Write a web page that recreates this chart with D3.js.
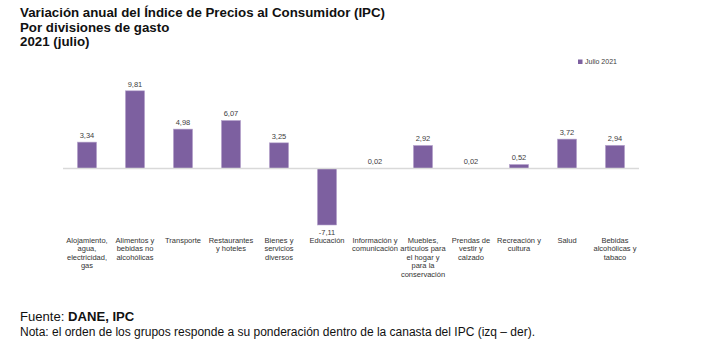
<!DOCTYPE html>
<html><head><meta charset="utf-8">
<script src="https://cdn.jsdelivr.net/npm/d3@7"></script>
<style>
body{margin:0;background:#fff;}
svg{display:block;font-family:"Liberation Sans",Arial,sans-serif;}
</style></head>
<body><svg id="c" width="716" height="359"></svg>
<script>
const categories = [
  ["Alojamiento,","agua,","electricidad,","gas"],
  ["Alimentos y","bebidas no","alcohólicas"],
  ["Transporte"],
  ["Restaurantes","y hoteles"],
  ["Bienes y","servicios","diversos"],
  ["Educación"],
  ["Información y","comunicación"],
  ["Muebles,","artículos para","el hogar y","para la","conservación"],
  ["Prendas de","vestir y","calzado"],
  ["Recreación y","cultura"],
  ["Salud"],
  ["Bebidas","alcohólicas y","tabaco"]
];
const values = [3.34, 9.81, 4.98, 6.07, 3.25, -7.11, 0.02, 2.92, 0.02, 0.52, 3.72, 2.94];
const seriesName = "Julio 2021";
const titleLines = ["Variación anual del Índice de Precios al Consumidor (IPC)","Por divisiones de gasto","2021 (julio)"];

const svg = d3.select("#c");
const color = "#7d60a0";
const fmt = v => d3.format(".2f")(v).replace(".", ",").replace("\u2212", "-");

const x = d3.scaleBand().domain(d3.range(values.length)).range([63, 639]).paddingInner(0.6).paddingOuter(0.3);
const y = d3.scaleLinear().domain([-7.11, 9.81]).range([225, 90.8]);

// title
const tt = svg.append("text").attr("x",20).attr("font-weight","bold").attr("font-size",13.3).attr("fill","#111");
titleLines.forEach((l,i)=>tt.append("tspan").attr("x",20).attr("y",17+i*14.5).text(l));

// bars
svg.selectAll("rect.bar").data(values).join("rect").attr("class","bar")
  .attr("x",(d,i)=>x(i)).attr("width",x.bandwidth())
  .attr("y",d=>Math.min(y(d),y(0))).attr("height",d=>Math.abs(y(d)-y(0)))
  .attr("fill",color).attr("stroke","#b9a8cf").attr("stroke-width",0.6);

// baseline
svg.append("line").attr("x1",63).attr("x2",639).attr("y1",y(0)).attr("y2",y(0)).attr("stroke","#d9d9d9").attr("stroke-width",1.5);

// value labels
svg.selectAll("text.val").data(values).join("text").attr("class","val")
  .attr("x",(d,i)=>x(i)+x.bandwidth()/2)
  .attr("y",d=> d>=0 ? y(d)-4 : y(d)+10)
  .attr("text-anchor","middle").attr("font-size",7.5).attr("fill","#404040")
  .text(d=>fmt(d));

// category labels
categories.forEach((lines,i)=>{
  const t = svg.append("text").attr("text-anchor","middle").attr("font-size",7.5).attr("fill","#333");
  lines.forEach((l,j)=>t.append("tspan").attr("x",x(i)+x.bandwidth()/2).attr("y",243+j*8.4).text(l));
});

// legend
svg.append("rect").attr("x",578).attr("y",59.5).attr("width",4.5).attr("height",4.5).attr("fill",color);
svg.append("text").attr("x",585).attr("y",64).attr("font-size",7).attr("fill","#404040").text(seriesName);

// footer
const f = svg.append("text").attr("x",20).attr("y",321).attr("font-size",13.1).attr("fill","#111");
f.append("tspan").text("Fuente: ");
f.append("tspan").attr("font-weight","bold").text("DANE, IPC");
svg.append("text").attr("x",20).attr("y",335.5).attr("font-size",12).attr("fill","#111")
  .text("Nota: el orden de los grupos responde a su ponderación dentro de la canasta del IPC (izq – der).");
</script></body></html>
